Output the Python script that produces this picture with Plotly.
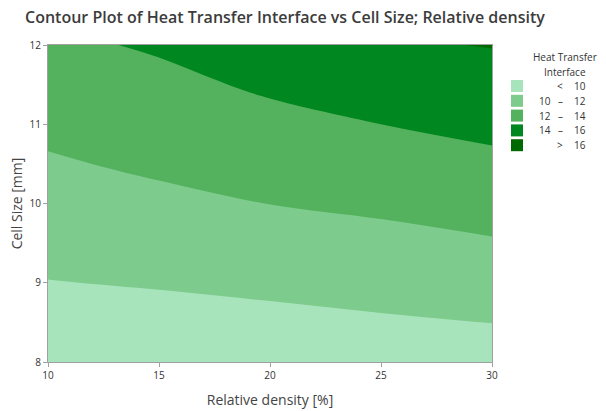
import plotly.graph_objects as go

# Relative density [%] (x) and Cell Size [mm] (y) grid
rel_density = [10, 15, 20, 25, 30]
cell_size = [8.0, 8.5, 9.0, 9.5, 10.0, 10.5, 11.0, 11.5, 12.0]

# Heat Transfer Interface values (rows = cell_size, cols = rel_density)
hti = [
    [8.71, 8.66, 8.74, 8.95, 9.10],
    [9.33, 9.40, 9.56, 9.80, 10.02],
    [9.95, 10.13, 10.38, 10.64, 10.94],
    [10.57, 10.87, 11.20, 11.49, 11.85],
    [11.19, 11.60, 12.02, 12.33, 12.74],
    [11.81, 12.29, 12.77, 13.17, 13.61],
    [12.41, 12.92, 13.52, 14.00, 14.45],
    [13.02, 13.57, 14.26, 14.88, 15.26],
    [13.65, 14.20, 14.99, 15.78, 16.07],
]

levels_start, levels_end, levels_step = 10, 16, 2
band_colors = ["#a8e4bb", "#7dcb8d", "#54b15d", "#00871f", "#006a00"]
band_left = ["", "10", "12", "14", ""]
band_mid = ["<", "–", "–", "–", ">"]
band_right = ["10", "12", "14", "16", "16"]

n = len(band_colors)
colorscale = [[i / (n - 1), c] for i, c in enumerate(band_colors)]

fig = go.Figure()
fig.add_trace(go.Contour(
    x=rel_density, y=cell_size, z=hti,
    contours=dict(start=levels_start, end=levels_end, size=levels_step,
                  coloring="fill", showlines=False),
    colorscale=colorscale,
    line=dict(width=0, smoothing=1.0),
    showscale=False,
    hoverinfo="skip",
))

W, H = 606, 411
L, R, T, B = 48, 492, 45, 362

font_family = "Open Sans, Noto Sans, sans-serif"
axis_common = dict(
    showline=True, linecolor="#a0a0a0", linewidth=1, mirror=True,
    ticks="outside", ticklen=4, tickcolor="#a0a0a0",
    showgrid=False, zeroline=False, automargin=False,
    tickfont=dict(size=10, color="#333333", family=font_family),
)

fig.update_layout(
    width=W, height=H,
    margin=dict(l=L, r=W - R, t=T, b=H - B, autoexpand=False),
    paper_bgcolor="white", plot_bgcolor="white",
    title=dict(text="Contour Plot of Heat Transfer Interface vs Cell Size; Relative density",
               x=25 / W, xanchor="left", y=1 - 17 / H, yanchor="middle",
               font=dict(size=16, color="#3c3c3c", family=font_family, weight=600)),
    xaxis=dict(range=[10, 30], tickvals=[10, 15, 20, 25, 30],
               title=dict(text="Relative density [%]", standoff=14,
                          font=dict(size=14, color="#444444", family=font_family)),
               **axis_common),
    yaxis=dict(range=[8, 12], tickvals=[8, 9, 10, 11, 12],
               title=dict(text="Cell Size [mm]", standoff=3,
                          font=dict(size=14, color="#444444", family=font_family)),
               **axis_common),
    showlegend=False,
)

# Custom legend, positioned in page pixels
def dx(x):
    return (x - L) / (R - L)
def dy(y):
    return (B - y) / (B - T)

legend_font = dict(size=10, color="#333333", family=font_family)
fig.add_annotation(text="Heat Transfer", x=dx(565), y=dy(57), xref="paper", yref="paper",
                   showarrow=False, xanchor="center", yanchor="middle", font=legend_font)
fig.add_annotation(text="Interface", x=dx(565), y=dy(72), xref="paper", yref="paper",
                   showarrow=False, xanchor="center", yanchor="middle", font=legend_font)
row0, row_step = 86, 14.8
for i, c in enumerate(band_colors):
    yc = row0 + i * row_step
    fig.add_shape(type="rect", xref="paper", yref="paper",
                  x0=dx(511), x1=dx(523), y0=dy(yc - 6), y1=dy(yc + 6),
                  fillcolor=c, line=dict(width=0))
    if band_left[i]:
        fig.add_annotation(text=band_left[i], x=dx(553), y=dy(yc), xref="paper", yref="paper",
                           showarrow=False, xanchor="right", yanchor="middle", font=legend_font)
    fig.add_annotation(text=band_mid[i], x=dx(560), y=dy(yc), xref="paper", yref="paper",
                       showarrow=False, xanchor="center", yanchor="middle", font=legend_font)
    fig.add_annotation(text=band_right[i], x=dx(572), y=dy(yc), xref="paper", yref="paper",
                       showarrow=False, xanchor="left", yanchor="middle", font=legend_font)

fig.write_html("out.html",
               config={"displayModeBar": False},
               post_script="document.body.style.margin='0';document.body.style.overflow='hidden';")
